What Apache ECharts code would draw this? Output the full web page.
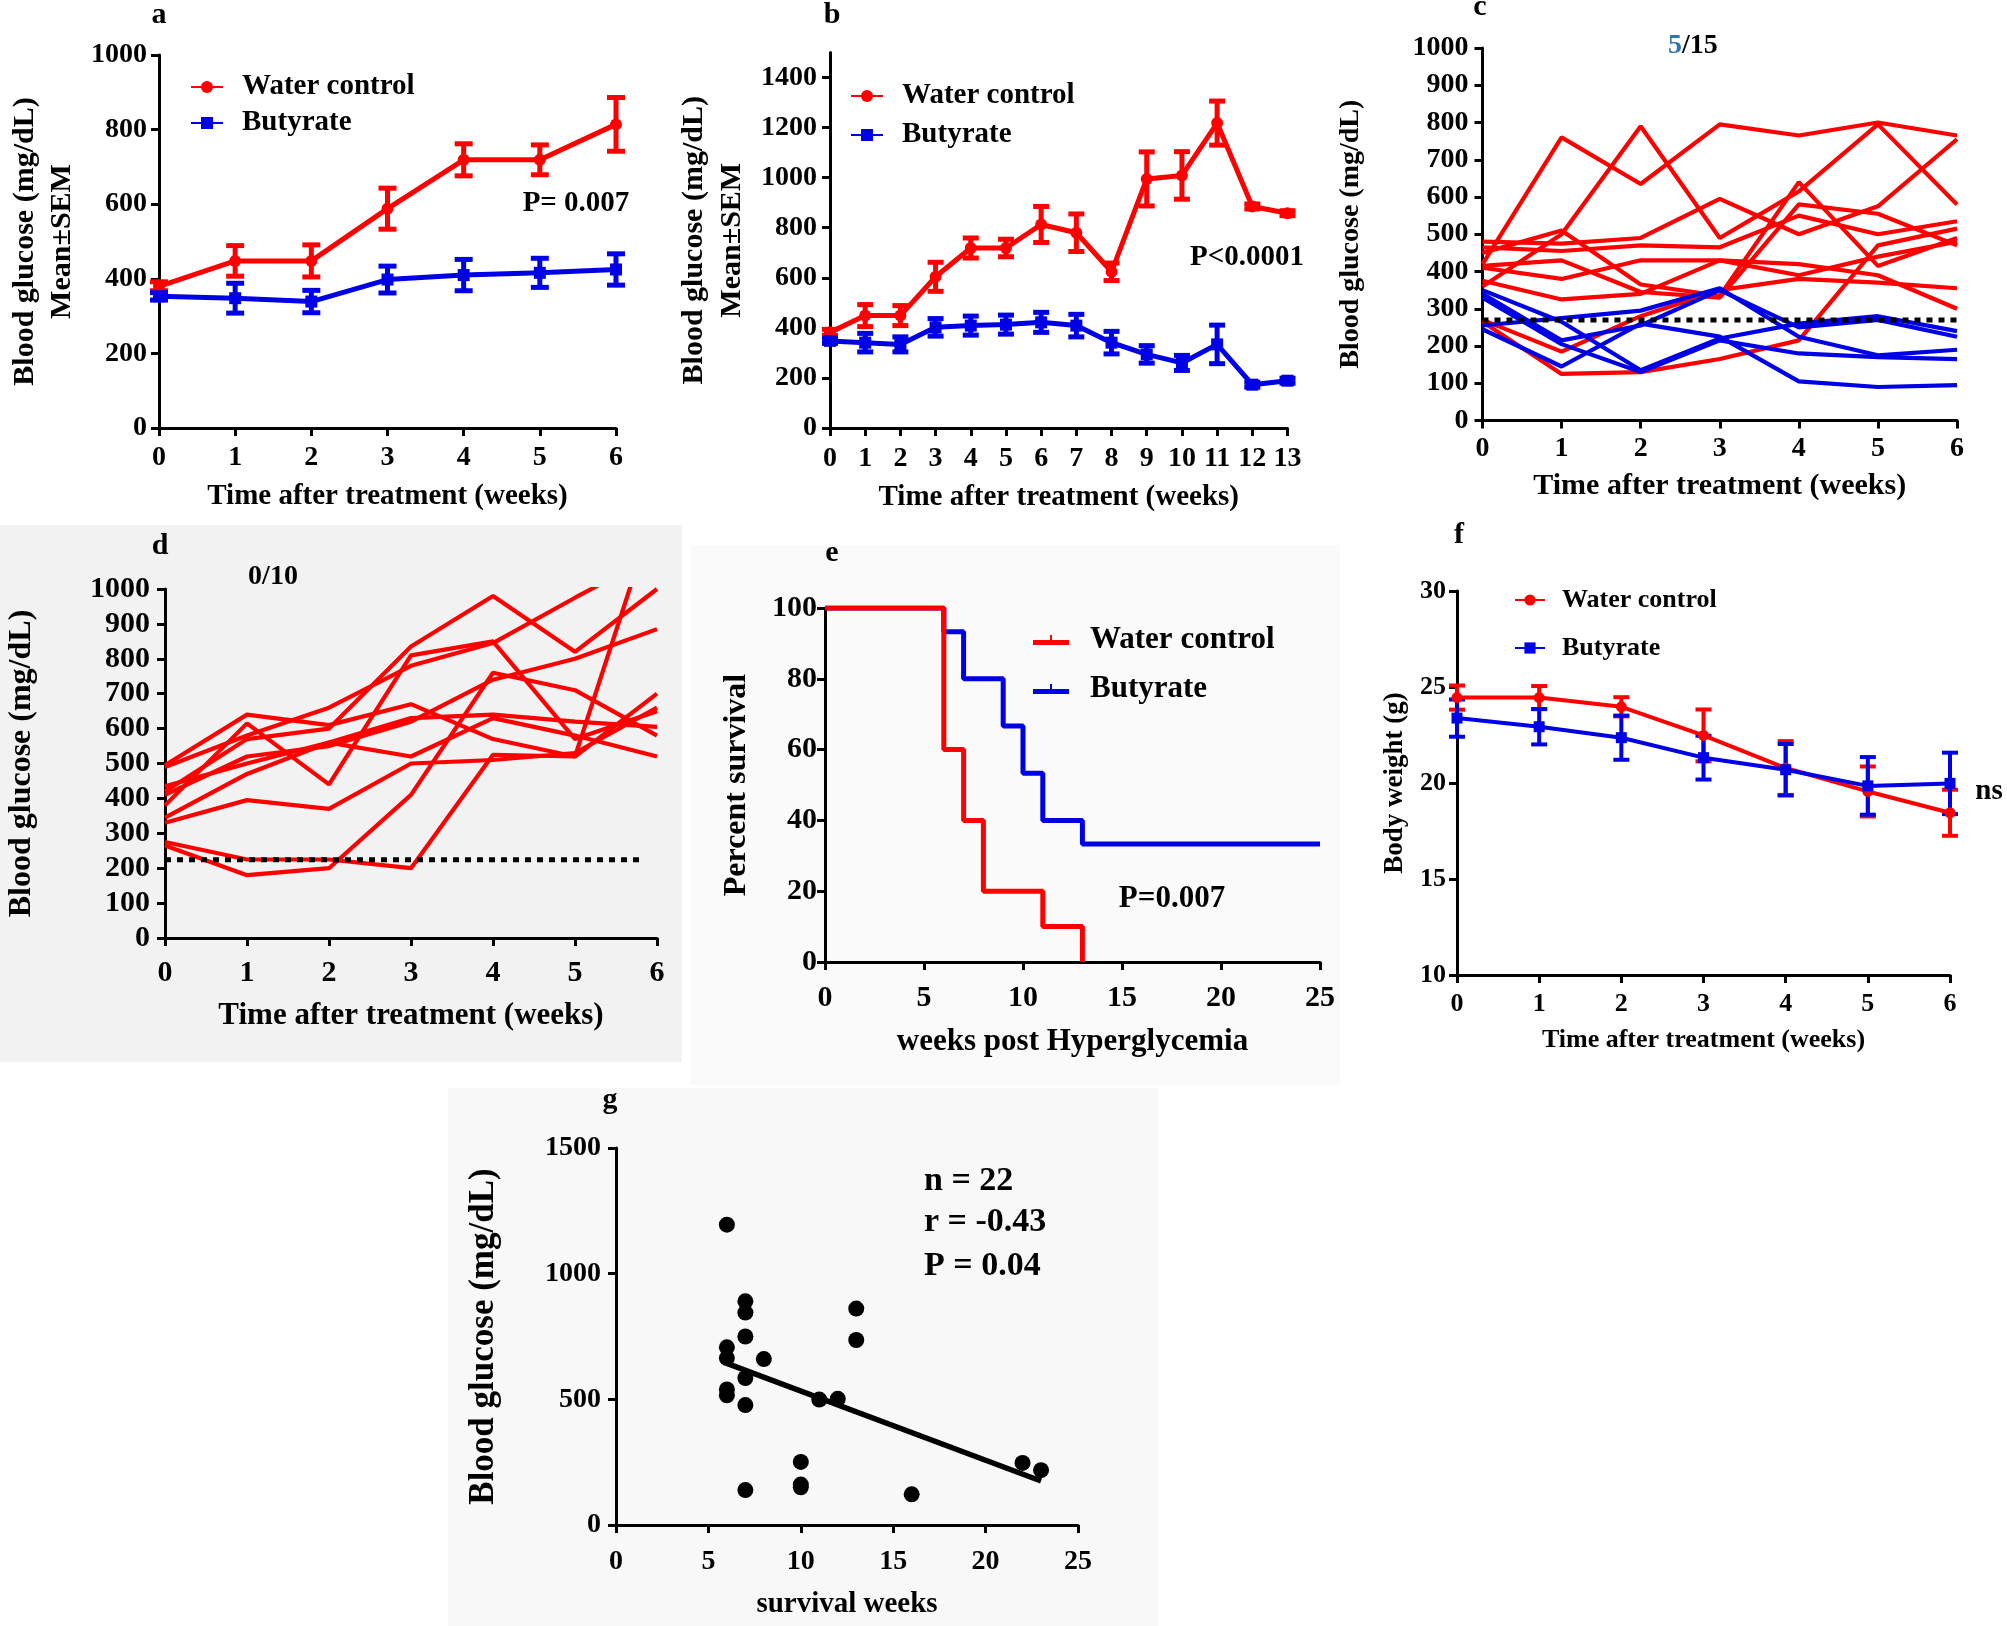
<!DOCTYPE html>
<html>
<head>
<meta charset="utf-8">
<script src="https://cdn.jsdelivr.net/npm/echarts@6/dist/echarts.min.js"></script>
<style>
html,body{margin:0;padding:0;background:#fff;}
#chart{width:2007px;height:1626px;}
</style>
</head>
<body>
<div id="chart"></div>
<script>
const FONT = '"Liberation Serif","Times New Roman",serif';
const RED = '#ff0000';
const BLUE = '#0000e6';

// ---- panel a ----
const weeksA = [0, 1, 2, 3, 4, 5, 6];
const aWaterMean = [380, 448, 448, 588, 719, 719, 814];
const aWaterSem = [12, 41, 43, 55, 43, 40, 72];
const aButMean = [353, 348, 339, 398, 410, 416, 425];
const aButSem = [10, 40, 30, 36, 42, 39, 42];

// ---- panel b ----
const weeksB = [0, 1, 2, 3, 4, 5, 6, 7, 8, 9, 10, 11, 12, 13];
const bWaterMean = [382, 449, 449, 604, 719, 719, 813, 780, 624, 995, 1009, 1218, 885, 858];
const bWaterSem = [12, 44, 40, 58, 40, 35, 72, 75, 35, 108, 95, 88, 10, 10];
const bButMean = [348, 341, 334, 402, 409, 413, 422, 409, 341, 294, 260, 334, 173, 189];
const bButSem = [10, 37, 30, 35, 38, 38, 40, 45, 45, 35, 30, 77, 10, 10];
const bYTicks = [0, 200, 400, 600, 800, 1000, 1200, 1400];

// ---- panel c (individual mice, butyrate group) ----
const weeksC = [0, 1, 2, 3, 4, 5, 6];
const cRedLines = [
  [420, 760, 635, 795, 765, 800, 765],
  [360, 500, 790, 490, 615, 795, 580],
  [480, 475, 490, 595, 500, 575, 755],
  [450, 510, 365, 335, 640, 415, 490],
  [415, 430, 345, 330, 580, 555, 470],
  [465, 455, 470, 465, 550, 500, 535],
  [410, 380, 430, 430, 420, 390, 300],
  [375, 325, 340, 430, 390, 440, 480],
  [270, 185, 280, 350, 380, 370, 355],
  [265, 125, 130, 165, 215, 470, 515]
];
const cBlueLines = [
  [255, 275, 295, 355, 225, 175, 190],
  [350, 265, 135, 220, 260, 280, 240],
  [340, 215, 255, 350, 250, 270, 225],
  [330, 205, 130, 215, 180, 170, 165],
  [245, 145, 260, 225, 105, 90, 95]
];
const cThreshold = 270;

// ---- panel d (individual mice, water group) ----
const weeksD = [0, 1, 2, 3, 4, 5, 6];
const dRedLines = [
  [495, 640, 610, 670, 570, 520, 700],
  [490, 580, 660, 780, 845, 975, 1100],
  [420, 570, 600, 835, 980, 820, 1000],
  [410, 520, 550, 620, 740, 800, 885],
  [380, 615, 440, 810, 850, 570, 650],
  [345, 470, 560, 630, 640, 620, 605],
  [330, 395, 370, 500, 510, 530, 660],
  [275, 225, 225, 200, 525, 520, 1240],
  [265, 180, 200, 410, 760, 710, 580],
  [435, 500, 560, 520, 630, 580, 520]
];
const dThreshold = 224;
const dThresholdEnd = 5.8;

// ---- panel e (survival) ----
const eWaterWeeks = [0, 6, 7, 8, 11, 13];
const eWaterPct = [100, 60, 40, 20, 10, 0];
const eButWeeks = [0, 6, 7, 9, 10, 11, 13, 25];
const eButPct = [100, 93.3, 80, 66.7, 53.3, 40, 33.3, 33.3];

// ---- panel f (body weight) ----
const weeksF = [0, 1, 2, 3, 4, 5, 6];
const fWaterMean = [24.45, 24.45, 23.97, 22.48, 20.78, 19.56, 18.45];
const fWaterSem = [0.63, 0.6, 0.5, 1.35, 1.4, 1.3, 1.2];
const fButMean = [23.38, 22.93, 22.36, 21.32, 20.69, 19.85, 19.98];
const fButSem = [0.97, 0.92, 1.15, 1.14, 1.34, 1.5, 1.6];

// ---- panel g (correlation) ----
const gWeeks = [6, 7, 7, 7, 6, 6, 8, 7, 6, 6, 7, 13, 13, 11, 12, 10, 10, 10, 7, 16, 22, 23];
const gGlucose = [1195, 890, 845, 750, 707, 664, 660, 585, 539, 516, 477, 861, 736, 499, 502, 251, 161, 150, 139, 122, 247, 218];
const gFitWeeks = [6, 23];
const gFitGlucose = [643, 175];

// ---------- helpers ----------
function mkAxis(gi, o) {
  const ax = {
    type: 'value', gridIndex: gi,
    min: o.min, max: o.max, interval: o.interval,
    axisLine: {show: true, onZero: false, lineStyle: {color: '#000', width: 3}},
    axisTick: {show: true, inside: false, length: 8, lineStyle: {color: '#000', width: 3}},
    axisLabel: {show: true, color: '#000', fontFamily: FONT, fontWeight: 'bold', fontSize: o.fs, margin: o.margin,
                formatter: function (v) { return String(v); }},
    splitLine: {show: false},
    name: o.name, nameLocation: 'middle', nameGap: o.nameGap, nameMoveOverlap: false,
    nameTextStyle: {color: '#000', fontFamily: FONT, fontWeight: 'bold', fontSize: o.nfs, lineHeight: o.lh}
  };
  if (o.ticks) {
    ax.axisTick.customValues = o.ticks;
    ax.axisLabel.customValues = o.ticks;
  }
  return ax;
}
function pairs(xs, ys) { return xs.map((x, i) => [x, ys[i]]); }
function lineS(name, gi, xs, ys, color, width, symbol, size, z) {
  return {
    type: 'line', name: name, xAxisIndex: gi, yAxisIndex: gi,
    data: pairs(xs, ys), symbol: symbol || 'none', symbolSize: size || 0,
    showAllSymbol: true, clip: true, silent: true,
    lineStyle: {color: color, width: width, opacity: 1}, itemStyle: {color: color, opacity: 1},
    z: z || 3
  };
}
function errS(name, gi, xs, means, sems, color, capW, lw) {
  return {
    type: 'custom', name: name, xAxisIndex: gi, yAxisIndex: gi, silent: true, z: 3,
    itemStyle: {color: color},
    data: xs.map((x, i) => [x, means[i] - sems[i], means[i] + sems[i]]),
    encode: {x: 0, y: [1, 2]},
    renderItem: function (params, api) {
      const x = api.value(0), lo = api.value(1), hi = api.value(2);
      const p1 = api.coord([x, lo]), p2 = api.coord([x, hi]);
      const st = {stroke: color, lineWidth: lw, fill: null};
      return {type: 'group', children: [
        {type: 'line', shape: {x1: p1[0], y1: p1[1], x2: p2[0], y2: p2[1]}, style: st},
        {type: 'line', shape: {x1: p1[0] - capW / 2, y1: p1[1], x2: p1[0] + capW / 2, y2: p1[1]}, style: st},
        {type: 'line', shape: {x1: p2[0] - capW / 2, y1: p2[1], x2: p2[0] + capW / 2, y2: p2[1]}, style: st}
      ]};
    }
  };
}
function txt(s, x, y, size, opts) {
  opts = opts || {};
  return {
    type: 'text', x: x, y: y, z: 50, silent: true,
    style: {
      text: s, fill: opts.color || '#000',
      font: 'bold ' + size + 'px ' + FONT,
      align: opts.align || 'center', verticalAlign: 'middle',
      textAlign: opts.align || 'center', textVerticalAlign: 'middle'
    }
  };
}
function bg(x, y, w, h, c) {
  return {type: 'rect', x: x, y: y, z: -100, silent: true, shape: {x: 0, y: 0, width: w, height: h}, style: {fill: c}};
}

// ---------- grids ----------
const grids = [
  {left: 159, top: 55, width: 457, height: 373},        // a
  {left: 830, top: 52.5, width: 457.5, height: 375.5},  // b
  {left: 1482.5, top: 48, width: 474.5, height: 372.5}, // c
  {left: 165, top: 589, width: 492, height: 349},       // d
  {left: 825, top: 608, width: 495, height: 354},       // e
  {left: 1457, top: 591, width: 493, height: 384},      // f
  {left: 616, top: 1148, width: 462, height: 377}       // g
].map(g => Object.assign({containLabel: false, outerBoundsMode: 'none', show: false}, g));

const TT = 'Time after treatment (weeks)';
const BG = 'Blood glucose (mg/dL)';

const xAxes = [
  mkAxis(0, {min: 0, max: 6, interval: 1, fs: 28, margin: 16, name: TT, nameGap: 54.5, nfs: 29}),
  mkAxis(1, {min: 0, max: 13, interval: 1, fs: 28, margin: 17, name: TT, nameGap: 55.5, nfs: 29}),
  mkAxis(2, {min: 0, max: 6, interval: 1, fs: 28, margin: 14, name: TT, nameGap: 50.5, nfs: 30}),
  mkAxis(3, {min: 0, max: 6, interval: 1, fs: 30, margin: 20, name: TT, nameGap: 62.5, nfs: 31}),
  mkAxis(4, {min: 0, max: 25, interval: 5, fs: 30, margin: 21, name: 'weeks post Hyperglycemia', nameGap: 64.5, nfs: 31}),
  mkAxis(5, {min: 0, max: 6, interval: 1, fs: 26, margin: 16, name: TT, nameGap: 52, nfs: 26}),
  mkAxis(6, {min: 0, max: 25, interval: 5, fs: 28, margin: 23, name: 'survival weeks', nameGap: 65.5, nfs: 29})
];
const yAxes = [
  mkAxis(0, {min: 0, max: 1000, interval: 200, fs: 28, margin: 12, name: BG + '\nMean\u00B1SEM', nameGap: 78.5, nfs: 30, lh: 37}),
  mkAxis(1, {min: 0, max: 1500, interval: 100, ticks: bYTicks, fs: 28, margin: 13, name: BG + '\nMean\u00B1SEM', nameGap: 79, nfs: 30, lh: 38}),
  mkAxis(2, {min: 0, max: 1000, interval: 100, fs: 28, margin: 14, name: BG, nameGap: 118, nfs: 28}),
  mkAxis(3, {min: 0, max: 1000, interval: 100, fs: 30, margin: 15, name: BG, nameGap: 127, nfs: 32}),
  mkAxis(4, {min: 0, max: 100, interval: 20, fs: 30, margin: 8, name: 'Percent survival', nameGap: 72, nfs: 32}),
  mkAxis(5, {min: 10, max: 30, interval: 5, fs: 26, margin: 11, name: 'Body weight (g)', nameGap: 48.5, nfs: 27}),
  mkAxis(6, {min: 0, max: 1500, interval: 500, fs: 28, margin: 15, name: BG, nameGap: 114.5, nfs: 35})
];

// ---------- series ----------
const series = [];
// a
series.push(lineS('Water control', 0, weeksA, aWaterMean, RED, 5, 'circle', 12, 5));
series.push(lineS('Butyrate', 0, weeksA, aButMean, BLUE, 5, 'rect', 12, 5));
series.push(errS('a water sem', 0, weeksA, aWaterMean, aWaterSem, RED, 18, 5));
series.push(errS('a butyrate sem', 0, weeksA, aButMean, aButSem, BLUE, 18, 5));
// b
series.push(lineS('Water control', 1, weeksB, bWaterMean, RED, 5, 'circle', 12, 5));
series.push(lineS('Butyrate', 1, weeksB, bButMean, BLUE, 5, 'rect', 12, 5));
series.push(errS('b water sem', 1, weeksB, bWaterMean, bWaterSem, RED, 16, 5));
series.push(errS('b butyrate sem', 1, weeksB, bButMean, bButSem, BLUE, 16, 5));
// c
cRedLines.forEach((ys, i) => series.push(lineS('c red ' + i, 2, weeksC, ys, RED, 4.2)));
cBlueLines.forEach((ys, i) => series.push(lineS('c blue ' + i, 2, weeksC, ys, BLUE, 4.2, 'none', 0, 4)));
series.push(Object.assign(lineS('c threshold', 2, [0, 6], [cThreshold, cThreshold], '#000', 5, 'none', 0, 6),
  {lineStyle: {color: '#000', width: 5, type: [6, 6]}}));
// d
dRedLines.forEach((ys, i) => series.push(lineS('d red ' + i, 3, weeksD, ys, RED, 4.2)));
series.push(Object.assign(lineS('d threshold', 3, [0, dThresholdEnd], [dThreshold, dThreshold], '#000', 5, 'none', 0, 6),
  {lineStyle: {color: '#000', width: 5, type: [6, 6]}}));
// e
series.push(Object.assign(lineS('Butyrate', 4, eButWeeks, eButPct, BLUE, 5, 'none', 0, 3), {step: 'end'}));
series.push(Object.assign(lineS('Water control', 4, eWaterWeeks, eWaterPct, RED, 5, 'none', 0, 4), {step: 'end'}));
// f
series.push(errS('f water sem', 5, weeksF, fWaterMean, fWaterSem, RED, 16, 4));
series.push(lineS('f water', 5, weeksF, fWaterMean, RED, 4, 'circle', 11, 5));
series.push(errS('f butyrate sem', 5, weeksF, fButMean, fButSem, BLUE, 16, 4));
series.push(lineS('f butyrate', 5, weeksF, fButMean, BLUE, 4, 'rect', 11, 5));
// g
series.push({
  type: 'scatter', name: 'g points', xAxisIndex: 6, yAxisIndex: 6, silent: true,
  data: pairs(gWeeks, gGlucose), symbol: 'circle', symbolSize: 16,
  itemStyle: {color: '#000', opacity: 1}, z: 4
});
series.push(lineS('g fit', 6, gFitWeeks, gFitGlucose, '#000', 5.5, 'none', 0, 5));

// ---------- legends ----------
function legendText(fs, pad) {
  return {fontFamily: FONT, fontWeight: 'bold', fontSize: fs, color: '#000', padding: [0, 0, 0, pad]};
}
const LEG_NAMES = ['Water control', 'Butyrate'];
const tickIcon = 'path://M0,7H36V12H0Z M17,2H19V7H17Z';
const legends = [
  {data: LEG_NAMES, orient: 'vertical', left: 190, top: 72.5, itemWidth: 32, itemHeight: 15, itemGap: 7,
   padding: 0, selectedMode: false, textStyle: legendText(29, 14)},
  {data: LEG_NAMES, orient: 'vertical', left: 850, top: 81.5, itemWidth: 32, itemHeight: 15, itemGap: 10,
   padding: 0, selectedMode: false, textStyle: legendText(29, 14)},
  {data: LEG_NAMES.map(n => ({name: n, icon: tickIcon})), orient: 'vertical', left: 1033, top: 624.5,
   itemWidth: 36, itemHeight: 12, itemGap: 18, padding: 0, selectedMode: false, textStyle: legendText(31, 16)},
  {data: LEG_NAMES, orient: 'vertical', left: 1514, top: 587, itemWidth: 30, itemHeight: 14, itemGap: 22,
   padding: 0, selectedMode: false, textStyle: legendText(26, 12)}
];

// ---------- texts / backgrounds ----------
const graphics = [
  bg(0, 525, 682, 537, '#f2f2f2'),
  bg(690, 545, 650, 540, '#fafafa'),
  bg(448, 1088, 710, 538, '#f8f8f8'),
  txt('a', 159, 15, 30), txt('b', 832, 15, 30), txt('c', 1480, 7, 30),
  txt('d', 160, 546, 30), txt('e', 832, 553, 30), txt('f', 1459, 535, 30), txt('g', 610, 1100, 30),
  txt('P= 0.007', 576, 204, 29),
  txt('P<0.0001', 1247, 258, 29),
  txt('5', 1682, 46, 28, {align: 'right', color: '#2e75b6'}),
  txt('/15', 1682, 46, 28, {align: 'left'}),
  txt('0/10', 273, 577, 28),
  txt('P=0.007', 1172, 899, 31),
  txt('ns', 1989, 792, 29),
  txt('n = 22', 924, 1181, 34, {align: 'left'}),
  txt('r = -0.43', 924, 1222, 34, {align: 'left'}),
  txt('P = 0.04', 924, 1266, 34, {align: 'left'})
];

const chart = echarts.init(document.getElementById('chart'), null, {renderer: 'canvas'});
chart.setOption({
  backgroundColor: '#ffffff',
  animation: false,
  textStyle: {fontFamily: FONT},
  grid: grids,
  xAxis: xAxes,
  yAxis: yAxes,
  legend: legends,
  series: series,
  graphic: {elements: graphics}
});
</script>
</body>
</html>
